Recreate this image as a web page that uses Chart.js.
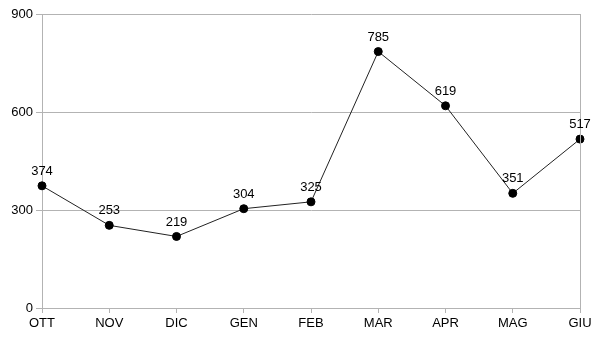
<!DOCTYPE html>
<html><head><meta charset="utf-8">
<script src="https://cdn.jsdelivr.net/npm/chart.js@4"></script>
<style>html,body{margin:0;padding:0;background:#fff}#w{width:605px;height:341px}</style>
</head><body><div id="w"><canvas id="c"></canvas></div>
<script>
const categories = ["OTT","NOV","DIC","GEN","FEB","MAR","APR","MAG","GIU"];
const values = [374,253,219,304,325,785,619,351,517];
const yTicks = [0,300,600,900];

const frame = {
  id:'frame',
  afterDatasetsDraw(chart){
    const {ctx, chartArea:a} = chart;
    ctx.save();
    ctx.strokeStyle='#b3b3b3'; ctx.lineWidth=1;
    ctx.beginPath(); ctx.moveTo(Math.round(a.right)+0.5,a.top); ctx.lineTo(Math.round(a.right)+0.5,a.bottom); ctx.stroke();
    const meta = chart.getDatasetMeta(0);
    ctx.fillStyle='#000'; ctx.font='13px "Liberation Sans", Arial, sans-serif';
    ctx.textAlign='center'; ctx.textBaseline='bottom';
    meta.data.forEach((p,i)=>{ ctx.fillText(String(values[i]), p.x, p.y-8); });
    ctx.restore();
  }
};

new Chart(document.getElementById('c'),{
  type:'line',
  data:{labels:categories,datasets:[{data:values,borderColor:'#222',borderWidth:1,
    pointBackgroundColor:'#000',pointBorderColor:'#000',pointRadius:4,tension:0}]},
  options:{
    responsive:true,maintainAspectRatio:false,animation:false,
    layout:{padding:{left:0,right:25,top:14,bottom:0}},
    plugins:{legend:{display:false},tooltip:{enabled:false}},
    scales:{
      x:{offset:false,
        grid:{drawOnChartArea:false,drawTicks:true,tickLength:5,color:'#b3b3b3'},
        border:{display:false},
        ticks:{color:'#000',padding:3,font:{family:'"Liberation Sans", Arial, sans-serif',size:13},maxRotation:0,autoSkip:false},
        afterFit(s){s.height=33;}
      },
      y:{min:0,max:900,
        afterBuildTicks(s){s.ticks=yTicks.map(v=>({value:v}));},
        grid:{color:'#b3b3b3',tickLength:6},
        border:{color:'#b3b3b3'},
        ticks:{color:'#000',padding:3,font:{family:'"Liberation Sans", Arial, sans-serif',size:13}},
        afterFit(s){s.width=42;}
      }
    }
  },
  plugins:[frame]
});
</script></body></html>
